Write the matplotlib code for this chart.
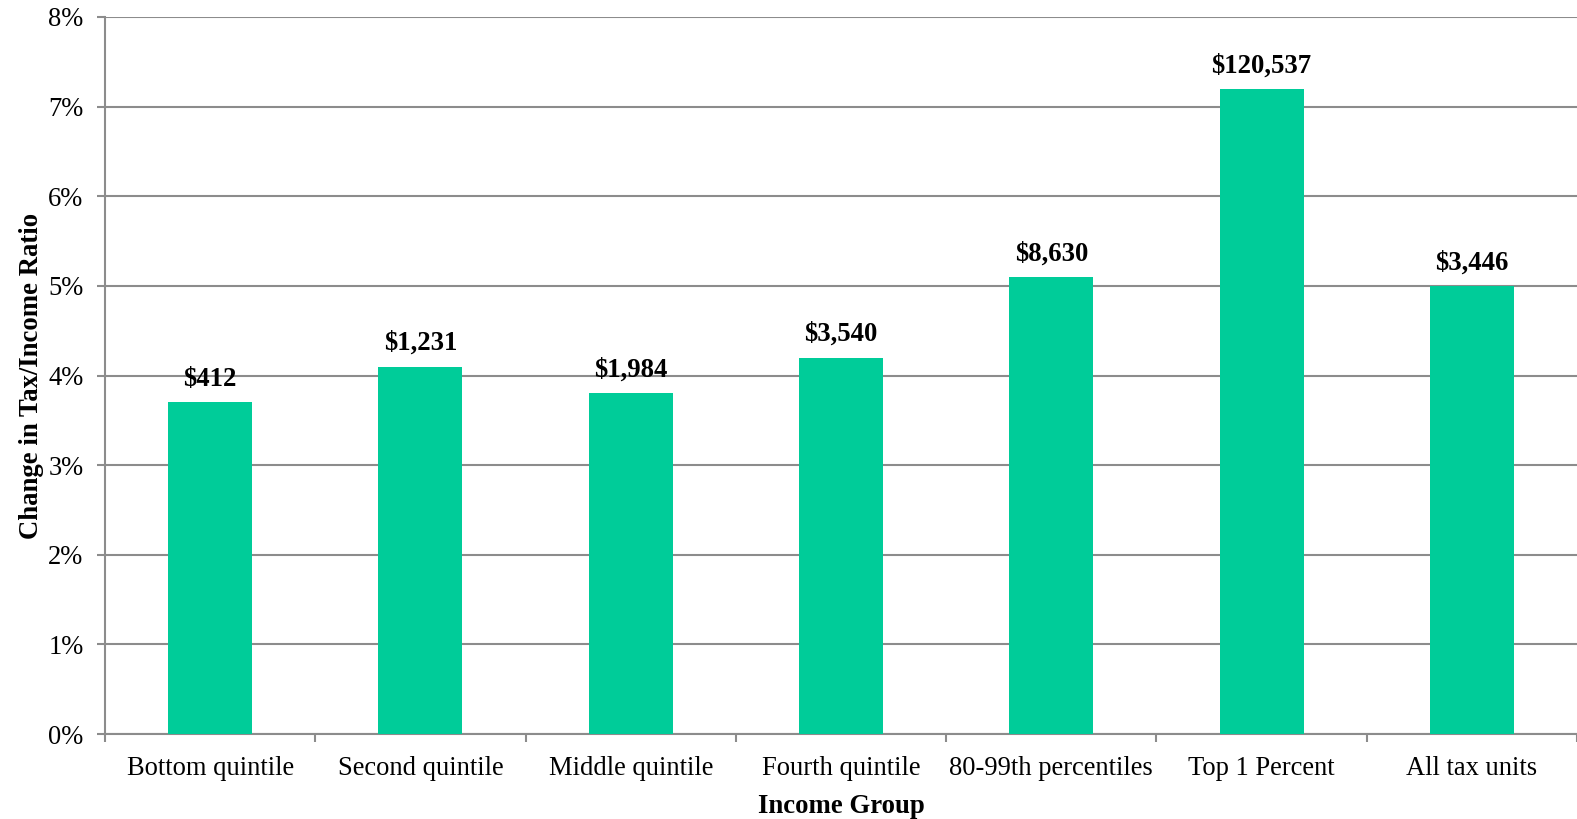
import matplotlib
matplotlib.use("Agg")
import matplotlib.pyplot as plt
from matplotlib.ticker import FuncFormatter, FixedLocator

categories = ["Bottom quintile", "Second quintile", "Middle quintile", "Fourth quintile",
              "80-99th percentiles", "Top 1 Percent", "All tax units"]
ratio_change = [3.7, 4.1, 3.8, 4.2, 5.1, 7.2, 5.0]
dollar_labels = ["$412", "$1,231", "$1,984", "$3,540", "$8,630", "$120,537", "$3,446"]

plt.rcParams["font.family"] = ["Liberation Serif", "DejaVu Serif"]

fig = plt.figure(figsize=(15.77, 8.19), dpi=100)
ax = fig.add_axes([105 / 1577, 1 - 734 / 819, (1577 - 105) / 1577, (734 - 17) / 819])

x = list(range(len(categories)))
bars = ax.bar(x, ratio_change, width=0.4, color="#00CC99", zorder=3)

for rect, lab in zip(bars, dollar_labels):
    ax.annotate(lab, (rect.get_x() + rect.get_width() / 2, rect.get_height()),
                xytext=(0, 7.5), textcoords="offset points", ha="center", va="bottom",
                fontsize=19.3, fontweight="bold")

ax.set_xlim(-0.5, len(categories) - 0.5)
ax.set_ylim(0, 8)
ax.set_yticks(range(0, 9))
ax.yaxis.set_major_formatter(FuncFormatter(lambda v, p: f"{int(v)}%"))
ax.yaxis.grid(True, color="#8c8c8c", linewidth=1.5, zorder=0)

ax.set_xticks(x)
ax.set_xticklabels(categories)
ax.tick_params(axis="x", which="major", length=0, labelsize=19.1, pad=16)
ax.xaxis.set_minor_locator(FixedLocator([i - 0.5 for i in range(len(categories) + 1)]))
ax.tick_params(axis="x", which="minor", length=5.5, width=1.5, color="#8c8c8c", direction="out")
ax.tick_params(axis="y", length=5.5, width=1.5, color="#8c8c8c", labelsize=19.1, pad=10)

for side in ["top", "right"]:
    ax.spines[side].set_visible(False)
for side in ["left", "bottom"]:
    ax.spines[side].set_color("#8c8c8c")
    ax.spines[side].set_linewidth(1.5)

ax.set_xlabel("Income Group", fontsize=19.3, fontweight="bold", labelpad=9.5)
ax.set_ylabel("Change in Tax/Income Ratio", fontsize=19.3, fontweight="bold", labelpad=3)

fig.savefig("out.png", dpi=100)
